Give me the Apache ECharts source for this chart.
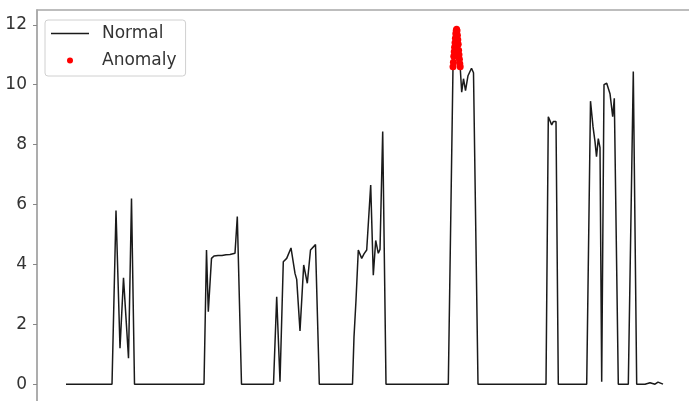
<!DOCTYPE html>
<html>
<head>
<meta charset="utf-8">
<script src="https://cdn.jsdelivr.net/npm/echarts@6/dist/echarts.min.js"></script>
<style>html,body{margin:0;padding:0;background:#fff}#c{width:689px;height:401px}</style>
</head>
<body>
<div id="c"></div>
<script>
// time positions and values of the "Normal" trace
const normalT = [0,46,50,54,57.5,62.5,65.5,68.5,138,140.5,142.3,145.5,148,152,156,160,164,169,171.3,175.5,
  207.5,210.7,214,217.3,220.7,225,229,230.7,234,237.7,241.3,244.5,249.5,253.3,
  286.5,288,290,292.3,295.7,298,300.7,304.7,307.3,309.7,312.3,314,316.7,320,
  382.3,387,389,390.7,392.3,394,395.7,397.5,399.5,402,405.5,407.5,412,
  480,482.3,485.7,487.3,490,492.3,
  520.7,524.5,527,529,530.5,532.3,534,535.7,538,540.7,544,546.7,548.3,552.3,
  562.3,567.3,570.7,579,584,589,592,597];
const normalV = [0,0,5.8,1.2,3.55,0.87,6.2,0,0,4.48,2.42,4.2,4.28,4.3,4.3,4.32,4.33,4.37,5.6,0,
  0,2.92,0.08,4.09,4.2,4.55,3.7,3.5,1.78,3.98,3.37,4.48,4.66,0,
  0,1.58,2.8,4.48,4.2,4.35,4.48,6.65,3.64,4.8,4.37,4.5,8.44,0,
  0,10.6,11.4,11.85,11.5,10.7,9.75,10.2,9.8,10.3,10.55,10.4,0,
  0,8.93,8.66,8.77,8.77,0,
  0,9.45,8.6,8.1,7.6,8.2,7.9,0.08,10.0,10.05,9.7,8.93,9.55,0,
  0,10.44,0,0,0.05,0,0.07,0];
// anomaly points
const anomalyT = [387,387.4,387.8,388.2,388.6,389,389.4,389.8,390.2,390.6,391,391.4,391.8,392.2,392.6,393,393.4,393.8,394.2];
const anomalyV = [10.6,10.75,10.95,11.1,11.25,11.4,11.55,11.7,11.8,11.85,11.8,11.65,11.5,11.35,11.15,11.0,10.85,10.7,10.6];
// y tick labels
const yTicks = [0,2,4,6,8,10,12];
const seriesNames = ['Normal','Anomaly'];

const chart = echarts.init(document.getElementById('c'), null, {renderer:'canvas'});
const FONT = 'DejaVu Sans';
chart.setOption({
  animation:false,
  backgroundColor:'#fff',
  textStyle:{fontFamily:FONT},
  grid:{left:37, top:10, width:656, height:392, outerBoundsMode:'none', containLabel:false,
    show:true, borderColor:'#a8a8a8', borderWidth:1.5, backgroundColor:'transparent'},
  legend:{
    data:[{name:seriesNames[0], icon:'path://M0,0 H38 V1.4 H0 Z'},{name:seriesNames[1], icon:'circle'}],
    orient:'vertical', left:45, top:20,
    itemWidth:38, itemHeight:6, itemGap:10,
    padding:[5,9,7,6],
    borderColor:'#d0d0d0', borderWidth:1, borderRadius:3,
    backgroundColor:'rgba(255,255,255,0.85)',
    textStyle:{fontFamily:FONT, fontSize:17, color:'#333', padding:[0,0,0,8]}
  },
  xAxis:{type:'value', min:-29, max:627, show:true,
    axisLine:{show:false}, axisTick:{show:false}, axisLabel:{show:false}, splitLine:{show:false}},
  yAxis:{type:'value', min:-0.595, max:12.495,
    axisLine:{show:true, onZero:false, lineStyle:{color:'#a8a8a8', width:1.5}},
    axisTick:{show:true, length:4, customValues:yTicks, lineStyle:{color:'#888'}},
    axisLabel:{customValues:yTicks, fontSize:17, color:'#333', margin:10, fontFamily:FONT},
    splitLine:{show:false}},
  series:[
    {name:seriesNames[0], type:'line', data:normalT.map((t,i)=>[t,normalV[i]]),
     symbol:'none', showSymbol:false, lineStyle:{color:'#1a1a1a', width:1.5}, itemStyle:{color:'#1a1a1a'}, z:2},
    {name:seriesNames[1], type:'scatter', data:anomalyT.map((t,i)=>[t,anomalyV[i]]),
     symbol:'circle', symbolSize:7, itemStyle:{color:'#ff0000', opacity:1}, z:3}
  ]
});
</script>
</body>
</html>
